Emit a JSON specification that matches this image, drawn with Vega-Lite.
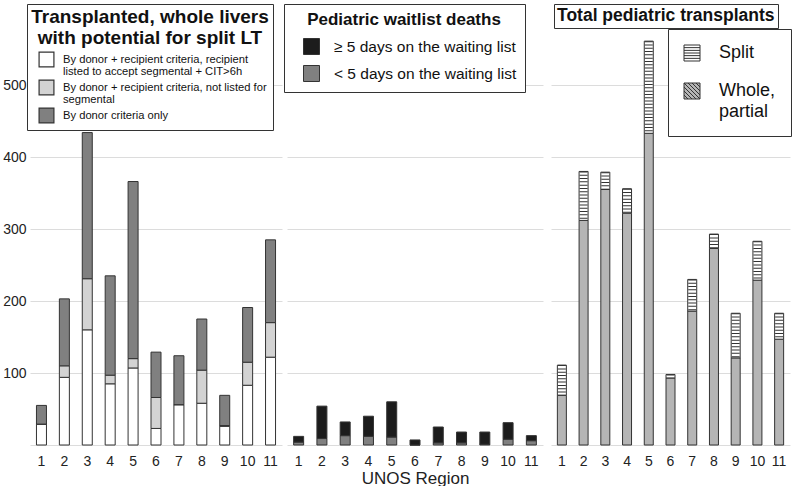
{
  "$schema": "https://vega.github.io/schema/vega-lite/v6.json",
  "padding": {"left": 2, "top": 3, "right": 0, "bottom": 0},
  "config": {
    "font": "Liberation Sans",
    "view": {"stroke": null},
    "axis": {"labelColor": "#222", "labelFontSize": 14, "gridColor": "#dcdcdc", "domain": false, "ticks": false},
    "legend": {"strokeColor": "#333", "fillColor": "white", "labelColor": "#111", "titleColor": "#111", "labelLimit": 0, "titleLimit": 0, "orient": "none"}
  },
  "spacing": 8,
  "resolve": {"scale": {"fill": "independent", "stroke": "independent"}, "legend": {"fill": "independent", "stroke": "independent"}},
  "hconcat": [
    {
      "spacing": 1,
      "resolve": {"scale": {"fill": "independent"}, "legend": {"fill": "independent"}},
      "hconcat": [
        {
          "width": 252,
          "height": 442,
          "data": {"values": [
            {"region": 1, "seg": 1, "category": "By donor + recipient criteria, recipient listed to accept segmental + CIT>6h", "value": 29},
            {"region": 1, "seg": 2, "category": "By donor + recipient criteria, not listed for segmental", "value": 0},
            {"region": 1, "seg": 3, "category": "By donor criteria only", "value": 26},
            {"region": 2, "seg": 1, "category": "By donor + recipient criteria, recipient listed to accept segmental + CIT>6h", "value": 94},
            {"region": 2, "seg": 2, "category": "By donor + recipient criteria, not listed for segmental", "value": 16},
            {"region": 2, "seg": 3, "category": "By donor criteria only", "value": 93},
            {"region": 3, "seg": 1, "category": "By donor + recipient criteria, recipient listed to accept segmental + CIT>6h", "value": 160},
            {"region": 3, "seg": 2, "category": "By donor + recipient criteria, not listed for segmental", "value": 71},
            {"region": 3, "seg": 3, "category": "By donor criteria only", "value": 203},
            {"region": 4, "seg": 1, "category": "By donor + recipient criteria, recipient listed to accept segmental + CIT>6h", "value": 85},
            {"region": 4, "seg": 2, "category": "By donor + recipient criteria, not listed for segmental", "value": 12},
            {"region": 4, "seg": 3, "category": "By donor criteria only", "value": 138},
            {"region": 5, "seg": 1, "category": "By donor + recipient criteria, recipient listed to accept segmental + CIT>6h", "value": 107},
            {"region": 5, "seg": 2, "category": "By donor + recipient criteria, not listed for segmental", "value": 13},
            {"region": 5, "seg": 3, "category": "By donor criteria only", "value": 246},
            {"region": 6, "seg": 1, "category": "By donor + recipient criteria, recipient listed to accept segmental + CIT>6h", "value": 23},
            {"region": 6, "seg": 2, "category": "By donor + recipient criteria, not listed for segmental", "value": 43},
            {"region": 6, "seg": 3, "category": "By donor criteria only", "value": 63},
            {"region": 7, "seg": 1, "category": "By donor + recipient criteria, recipient listed to accept segmental + CIT>6h", "value": 56},
            {"region": 7, "seg": 2, "category": "By donor + recipient criteria, not listed for segmental", "value": 0},
            {"region": 7, "seg": 3, "category": "By donor criteria only", "value": 68},
            {"region": 8, "seg": 1, "category": "By donor + recipient criteria, recipient listed to accept segmental + CIT>6h", "value": 58},
            {"region": 8, "seg": 2, "category": "By donor + recipient criteria, not listed for segmental", "value": 46},
            {"region": 8, "seg": 3, "category": "By donor criteria only", "value": 71},
            {"region": 9, "seg": 1, "category": "By donor + recipient criteria, recipient listed to accept segmental + CIT>6h", "value": 26},
            {"region": 9, "seg": 2, "category": "By donor + recipient criteria, not listed for segmental", "value": 1},
            {"region": 9, "seg": 3, "category": "By donor criteria only", "value": 42},
            {"region": 10, "seg": 1, "category": "By donor + recipient criteria, recipient listed to accept segmental + CIT>6h", "value": 83},
            {"region": 10, "seg": 2, "category": "By donor + recipient criteria, not listed for segmental", "value": 32},
            {"region": 10, "seg": 3, "category": "By donor criteria only", "value": 76},
            {"region": 11, "seg": 1, "category": "By donor + recipient criteria, recipient listed to accept segmental + CIT>6h", "value": 122},
            {"region": 11, "seg": 2, "category": "By donor + recipient criteria, not listed for segmental", "value": 48},
            {"region": 11, "seg": 3, "category": "By donor criteria only", "value": 115}
          ]},
          "mark": {"type": "bar", "width": 10, "stroke": "#333", "strokeWidth": 1},
          "encoding": {
            "x": {"field": "region", "type": "ordinal", "axis": {"title": null, "labelAngle": 0, "labelPadding": 9}},
            "y": {"field": "value", "type": "quantitative", "stack": "zero",
                  "scale": {"domain": [0, 614], "nice": false},
                  "axis": {"title": null, "values": [0, 100, 200, 300, 400, 500], "labelExpr": "datum.value == 0 ? '' : datum.label", "labelPadding": 4, "grid": true}},
            "order": {"field": "seg", "type": "quantitative"},
            "fill": {"field": "category", "type": "nominal",
                     "scale": {"domain": ["By donor + recipient criteria, recipient listed to accept segmental + CIT>6h", "By donor + recipient criteria, not listed for segmental", "By donor criteria only"],
                               "range": ["#ffffff", "#d3d3d3", "#808080"]},
                     "legend": {
                       "title": ["Transplanted, whole livers", "with potential for split LT"],
                       "legendX": -3, "legendY": 1, "padding": 4,
                       "titleFontSize": 19, "titleFontWeight": "bold", "titleAnchor": "middle", "titleLineHeight": 21, "titlePadding": 3,
                       "labelFontSize": 11.2, "labelOffset": 8, "rowPadding": 0,
                       "symbolType": "square", "symbolSize": 220, "symbolStrokeColor": "#333", "symbolStrokeWidth": 1.2, "symbolOffset": 4,
                       "labelExpr": "datum.value == 'By donor criteria only' ? datum.value : datum.value == 'By donor + recipient criteria, not listed for segmental' ? ['By donor + recipient criteria, not listed for', 'segmental'] : ['By donor + recipient criteria, recipient', 'listed to accept segmental + CIT>6h']",
                       "encode": {"labels": {"update": {"lineHeight": {"value": 12}}}}
                     }}
          }
        },
        {
          "width": 256,
          "height": 442,
          "data": {"values": [
            {"region": 1, "seg": 1, "category": "< 5 days on the waiting list", "value": 4},
            {"region": 1, "seg": 2, "category": "≥ 5 days on the waiting list", "value": 8},
            {"region": 2, "seg": 1, "category": "< 5 days on the waiting list", "value": 9},
            {"region": 2, "seg": 2, "category": "≥ 5 days on the waiting list", "value": 45},
            {"region": 3, "seg": 1, "category": "< 5 days on the waiting list", "value": 13},
            {"region": 3, "seg": 2, "category": "≥ 5 days on the waiting list", "value": 19},
            {"region": 4, "seg": 1, "category": "< 5 days on the waiting list", "value": 12},
            {"region": 4, "seg": 2, "category": "≥ 5 days on the waiting list", "value": 28},
            {"region": 5, "seg": 1, "category": "< 5 days on the waiting list", "value": 11},
            {"region": 5, "seg": 2, "category": "≥ 5 days on the waiting list", "value": 49},
            {"region": 6, "seg": 1, "category": "< 5 days on the waiting list", "value": 0},
            {"region": 6, "seg": 2, "category": "≥ 5 days on the waiting list", "value": 7},
            {"region": 7, "seg": 1, "category": "< 5 days on the waiting list", "value": 3},
            {"region": 7, "seg": 2, "category": "≥ 5 days on the waiting list", "value": 22},
            {"region": 8, "seg": 1, "category": "< 5 days on the waiting list", "value": 3},
            {"region": 8, "seg": 2, "category": "≥ 5 days on the waiting list", "value": 15},
            {"region": 9, "seg": 1, "category": "< 5 days on the waiting list", "value": 1},
            {"region": 9, "seg": 2, "category": "≥ 5 days on the waiting list", "value": 17},
            {"region": 10, "seg": 1, "category": "< 5 days on the waiting list", "value": 8},
            {"region": 10, "seg": 2, "category": "≥ 5 days on the waiting list", "value": 23},
            {"region": 11, "seg": 1, "category": "< 5 days on the waiting list", "value": 6},
            {"region": 11, "seg": 2, "category": "≥ 5 days on the waiting list", "value": 7}
          ]},
          "mark": {"type": "bar", "width": 10, "stroke": "#333", "strokeWidth": 1},
          "encoding": {
            "x": {"field": "region", "type": "ordinal", "axis": {"title": "UNOS Region", "titleFontSize": 17, "titleFontWeight": "normal", "titleColor": "#222", "titlePadding": 2, "labelAngle": 0, "labelPadding": 9}},
            "y": {"field": "value", "type": "quantitative", "stack": "zero",
                  "scale": {"domain": [0, 614], "nice": false},
                  "axis": {"title": null, "values": [0, 100, 200, 300, 400, 500], "labels": false, "grid": true}},
            "order": {"field": "seg", "type": "quantitative"},
            "fill": {"field": "category", "type": "nominal",
                     "scale": {"domain": ["≥ 5 days on the waiting list", "< 5 days on the waiting list"], "range": ["#1c1c1c", "#808080"]},
                     "legend": {
                       "title": "Pediatric waitlist deaths",
                       "legendX": -3, "legendY": 1, "padding": 8,
                       "titleFontSize": 17, "titleFontWeight": "bold", "titleAnchor": "middle", "titlePadding": 9,
                       "labelFontSize": 15.5, "labelOffset": 14, "rowPadding": 6,
                       "symbolType": "square", "symbolSize": 256, "symbolStrokeColor": "#333", "symbolStrokeWidth": 1, "symbolOffset": 11
                     }}
          }
        }
      ]
    },
    {
      "width": 239,
      "height": 442,
      "data": {"values": [
        {"region": 1, "seg": 1, "type": "Whole, partial", "value": 69},
        {"region": 1, "seg": 2, "type": "Split", "value": 42},
        {"region": 2, "seg": 1, "type": "Whole, partial", "value": 312},
        {"region": 2, "seg": 2, "type": "Split", "value": 68},
        {"region": 3, "seg": 1, "type": "Whole, partial", "value": 355},
        {"region": 3, "seg": 2, "type": "Split", "value": 24},
        {"region": 4, "seg": 1, "type": "Whole, partial", "value": 322},
        {"region": 4, "seg": 2, "type": "Split", "value": 34},
        {"region": 5, "seg": 1, "type": "Whole, partial", "value": 433},
        {"region": 5, "seg": 2, "type": "Split", "value": 128},
        {"region": 6, "seg": 1, "type": "Whole, partial", "value": 93},
        {"region": 6, "seg": 2, "type": "Split", "value": 5},
        {"region": 7, "seg": 1, "type": "Whole, partial", "value": 186},
        {"region": 7, "seg": 2, "type": "Split", "value": 44},
        {"region": 8, "seg": 1, "type": "Whole, partial", "value": 273},
        {"region": 8, "seg": 2, "type": "Split", "value": 20},
        {"region": 9, "seg": 1, "type": "Whole, partial", "value": 121},
        {"region": 9, "seg": 2, "type": "Split", "value": 62},
        {"region": 10, "seg": 1, "type": "Whole, partial", "value": 229},
        {"region": 10, "seg": 2, "type": "Split", "value": 54},
        {"region": 11, "seg": 1, "type": "Whole, partial", "value": 147},
        {"region": 11, "seg": 2, "type": "Split", "value": 36}
      ]},
      "transform": [{"stack": "value", "groupby": ["region"], "sort": [{"field": "seg", "order": "ascending"}], "as": ["v0", "v1"]}],
      "layer": [
        {
          "mark": {"type": "bar", "width": 9, "strokeWidth": 1},
          "encoding": {
            "x": {"field": "region", "type": "ordinal", "axis": {"title": null, "labelAngle": 0, "labelPadding": 9}},
            "y": {"field": "v1", "type": "quantitative",
                  "scale": {"domain": [0, 614], "nice": false},
                  "axis": {"title": null, "values": [0, 100, 200, 300, 400, 500], "labels": false, "grid": true}},
            "y2": {"field": "v0"},
            "fill": {"field": "type", "type": "nominal",
                     "scale": {"domain": ["Split", "Whole, partial"], "range": ["#ffffff", "#b5b5b5"]},
                     "legend": {
                       "title": null,
                       "legendX": 117, "legendY": 26, "padding": 15,
                       "labelFontSize": 18, "labelOffset": 18, "rowPadding": 18,
                       "symbolSize": 256, "symbolStrokeColor": "#333", "symbolStrokeWidth": 1,
                       "labelExpr": "datum.value == 'Split' ? 'Split' : ['Whole,', 'partial']",
                       "encode": {
                         "labels": {"update": {"lineHeight": {"value": 21}}},
                         "symbols": {"update": {"shape": {"signal": "datum.value == 'Split' ? 'M-1,-1H1V1H-1ZM-1,-0.67H1M-1,-0.33H1M-1,0H1M-1,0.33H1M-1,0.67H1' : 'M-1,-1H1V1H-1ZM0.5,-1L1,-0.5M0,-1L1,0M-0.5,-1L1,0.5M-1,-1L1,1M-1,-0.5L0.5,1M-1,0L0,1M-1,0.5L-0.5,1'"}}}
                       }
                     }},
            "stroke": {"datum": "Total pediatric transplants", "type": "nominal",
                       "scale": {"range": ["#333333"]},
                       "legend": {
                         "title": "Total pediatric transplants",
                         "legendX": 3, "legendY": 1, "padding": 3,
                         "titleFontSize": 17.5, "titleFontWeight": "bold", "titlePadding": 0,
                         "symbolOpacity": 0, "symbolSize": 0, "symbolStrokeWidth": 0, "labelOpacity": 0, "labelFontSize": 1, "labelExpr": "''"
                       }}
          }
        },
        {
          "transform": [{"filter": "datum.type == 'Split'"}],
          "mark": {"type": "rule", "strokeWidth": 8, "strokeDash": [1, 2.3], "color": "#333", "strokeCap": "butt"},
          "encoding": {
            "x": {"field": "region", "type": "ordinal"},
            "y": {"field": "v1", "type": "quantitative"},
            "y2": {"field": "v0"}
          }
        }
      ]
    }
  ]
}
